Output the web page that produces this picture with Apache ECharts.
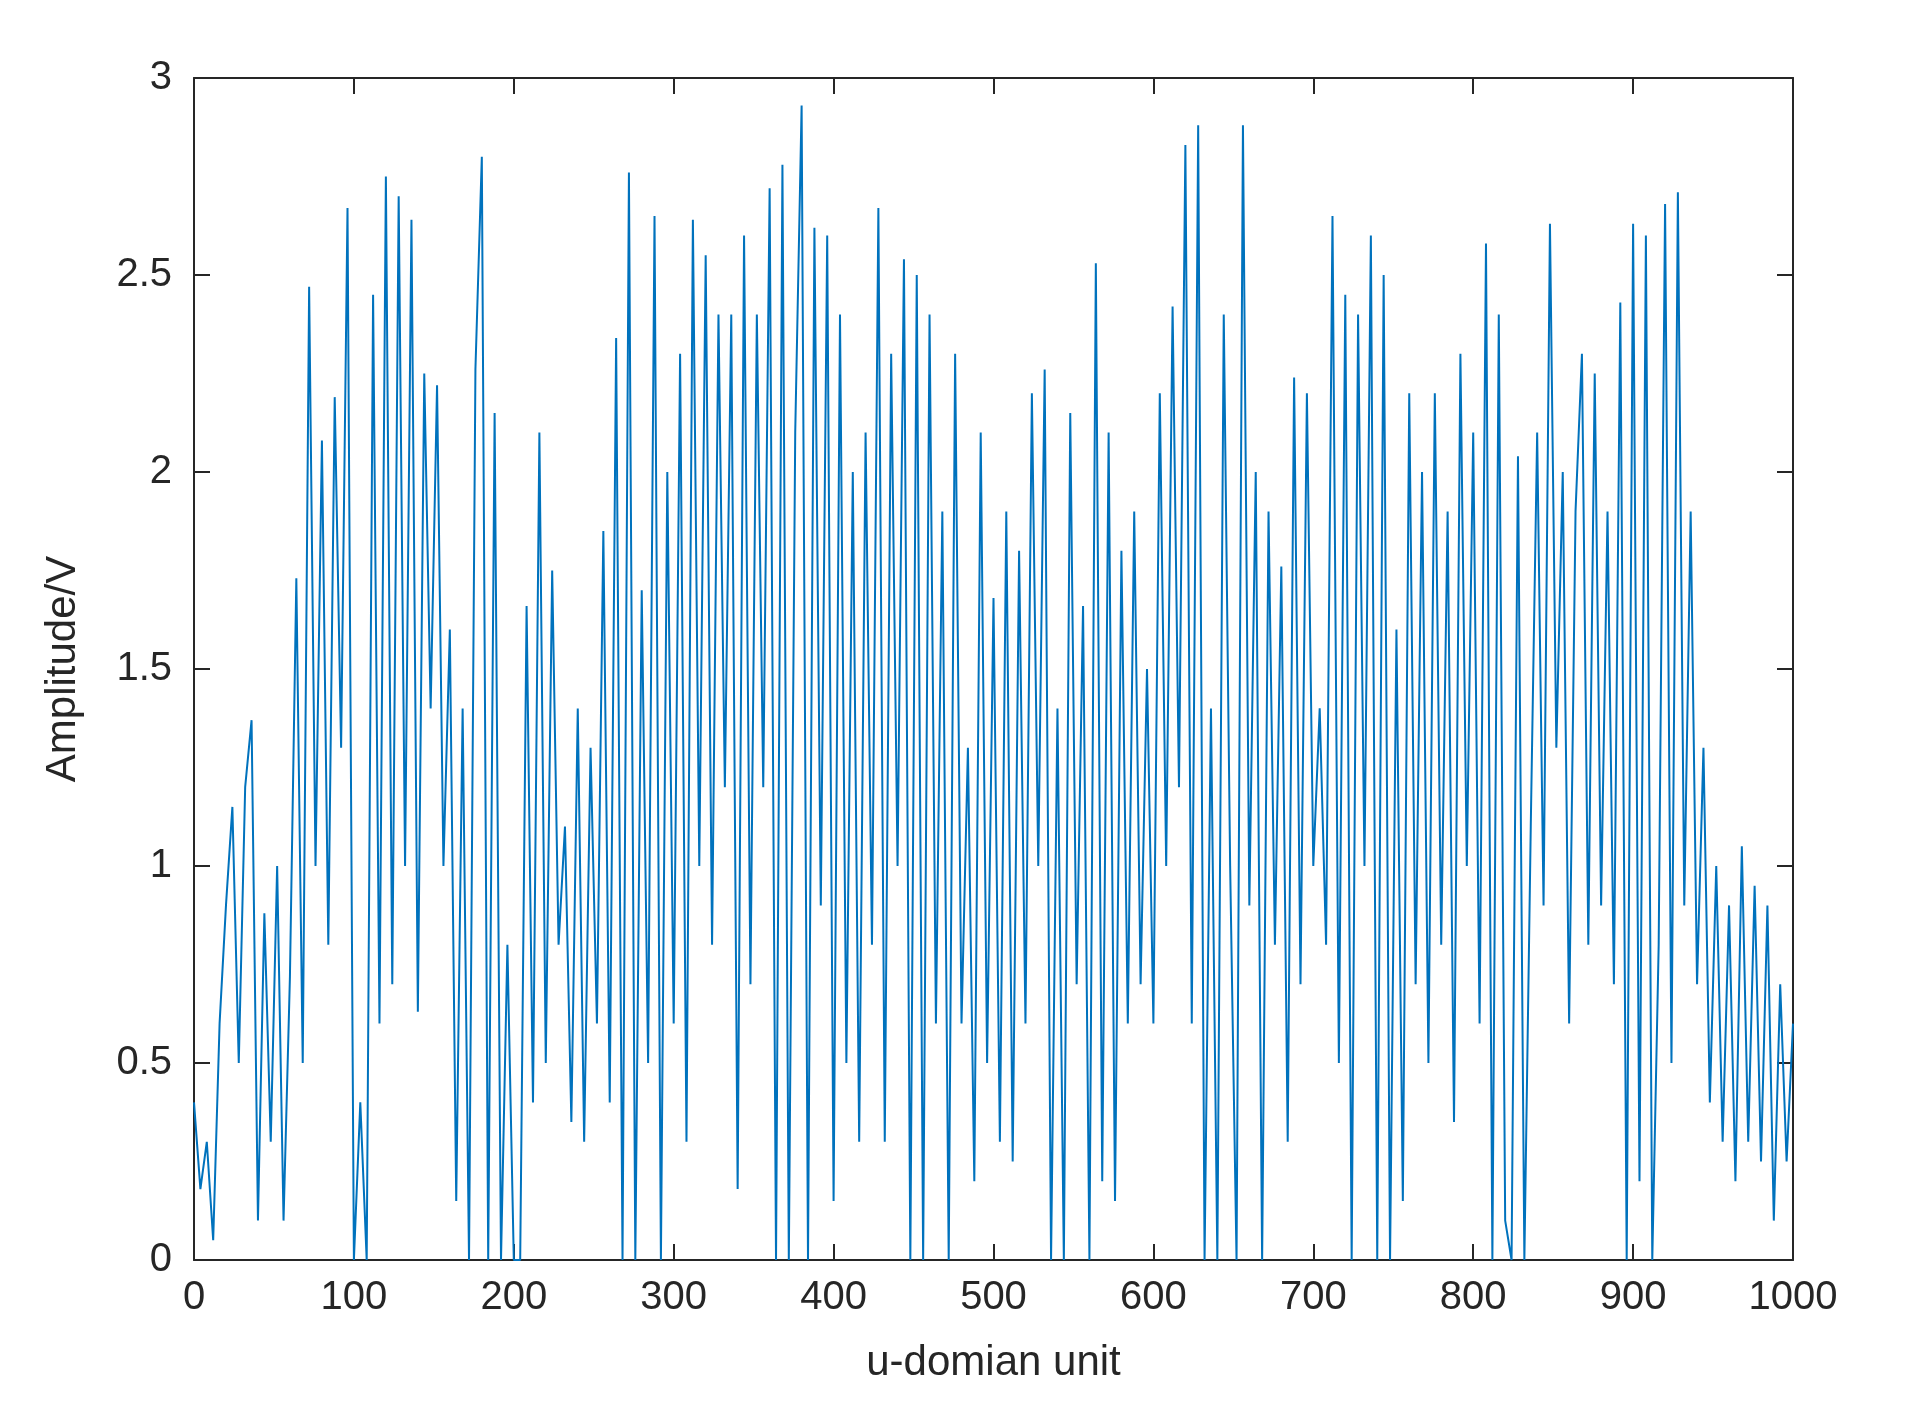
<!DOCTYPE html>
<html>
<head>
    <meta charset="UTF-8">
    <title>u-domain amplitude</title>
    <style type="text/css">
        body { margin: 0; background: #fff; }
        #chart { width: 1913px; height: 1405px; }
    </style>
    <script type="text/javascript" src="https://cdn.jsdelivr.net/npm/echarts@6/dist/echarts.min.js"></script>
</head>
<body>
<div id="chart"></div>
<script type="text/javascript">
    // amplitude, one sample every 4 u-domain units
    var step = 4;
    var amp = [
        0.4, 0.18, 0.3, 0.05, 0.6, 0.9, 1.15, 0.5, 1.2, 1.37, 0.1, 0.88, 0.3, 1.0, 0.1,
        0.72, 1.73, 0.5, 2.47, 1.0, 2.08, 0.8, 2.19, 1.3, 2.67,
        0, 0.4, 0, 2.45, 0.6, 2.75, 0.7, 2.7, 1.0, 2.64, 0.63, 2.25, 1.4, 2.22, 1.0, 1.6, 0.15, 1.4, 0, 2.26, 2.8, 0, 2.15, 0, 0.8,
        0, 0, 1.66, 0.4, 2.1, 0.5, 1.75, 0.8, 1.1, 0.35, 1.4, 0.3, 1.3, 0.6, 1.85, 0.4, 2.34, 0, 2.76, 0, 1.7, 0.5, 2.65, 0, 2.0,
        0.6, 2.3, 0.3, 2.64, 1.0, 2.55, 0.8, 2.4, 1.2, 2.4, 0.18, 2.6, 0.7, 2.4, 1.2, 2.72, 0, 2.78, 0, 2.1, 2.93, 0, 2.62, 0.9, 2.6,
        0.15, 2.4, 0.5, 2.0, 0.3, 2.1, 0.8, 2.67, 0.3, 2.3, 1.0, 2.54, 0, 2.5, 0, 2.4, 0.6, 1.9, 0, 2.3, 0.6, 1.3, 0.2, 2.1, 0.5,
        1.68, 0.3, 1.9, 0.25, 1.8, 0.6, 2.2, 1.0, 2.26, 0, 1.4, 0, 2.15, 0.7, 1.66, 0, 2.53, 0.2, 2.1, 0.15, 1.8, 0.6, 1.9, 0.7, 1.5,
        0.6, 2.2, 1.0, 2.42, 1.2, 2.83, 0.6, 2.88, 0, 1.4, 0, 2.4, 1.0, 0, 2.88, 0.9, 2.0, 0, 1.9, 0.8, 1.76, 0.3, 2.24, 0.7, 2.2,
        1.0, 1.4, 0.8, 2.65, 0.5, 2.45, 0, 2.4, 1.0, 2.6, 0, 2.5, 0, 1.6, 0.15, 2.2, 0.7, 2.0, 0.5, 2.2, 0.8, 1.9, 0.35, 2.3, 1.0,
        2.1, 0.6, 2.58, 0, 2.4, 0.1, 0, 2.04, 0, 1.1, 2.1, 0.9, 2.63, 1.3, 2.0, 0.6, 1.9, 2.3, 0.8, 2.25, 0.9, 1.9, 0.7, 2.43, 0,
        2.63, 0.2, 2.6, 0, 0.8, 2.68, 0.5, 2.71, 0.9, 1.9, 0.7, 1.3, 0.4, 1.0, 0.3, 0.9, 0.2, 1.05, 0.3, 0.95, 0.25, 0.9, 0.1, 0.7, 0.25,
        0.6
    ];

    var points = amp.map(function (v, i) { return [i * step, v]; });

    var font = '"Liberation Sans", Arial, sans-serif';
    var ink = '#262626';
    var lineStyle = {color: ink, width: 2};

    function axis(extra) {
        var a = {
            type: 'value',
            axisLine: {show: true, onZero: false, lineStyle: lineStyle},
            axisTick: {show: true, inside: true, length: 16, lineStyle: lineStyle},
            splitLine: {show: false}
        };
        for (var k in extra) a[k] = extra[k];
        return a;
    }

    var myChart = echarts.init(document.getElementById('chart'));
    var option = {
        animation: false,
        grid: {left: 194, right: 120, top: 78, bottom: 145},
        xAxis: [axis({
            min: 0, max: 1000, interval: 100, position: 'bottom',
            name: 'u-domian unit', nameLocation: 'middle', nameGap: 82,
            nameTextStyle: {fontFamily: font, fontSize: 42, color: ink},
            axisLabel: {fontFamily: font, fontSize: 40, color: ink, margin: 18,
                formatter: function (v) { return String(v); }}
        }), axis({
            min: 0, max: 1000, interval: 100, position: 'top', axisLabel: {show: false}
        })],
        yAxis: [axis({
            min: 0, max: 3, interval: 0.5, position: 'left',
            name: 'Amplitude/V', nameLocation: 'middle', nameGap: 110,
            nameTextStyle: {fontFamily: font, fontSize: 42, color: ink},
            axisLabel: {fontFamily: font, fontSize: 40, color: ink, margin: 22,
                formatter: function (v) { return String(v); }}
        }), axis({
            min: 0, max: 3, interval: 0.5, position: 'right', axisLabel: {show: false}
        })],
        series: [{
            type: 'line',
            data: points,
            showSymbol: false,
            lineStyle: {color: '#0072BD', width: 2},
            itemStyle: {color: '#0072BD'}
        }]
    };
    myChart.setOption(option);
</script>
</body>
</html>
